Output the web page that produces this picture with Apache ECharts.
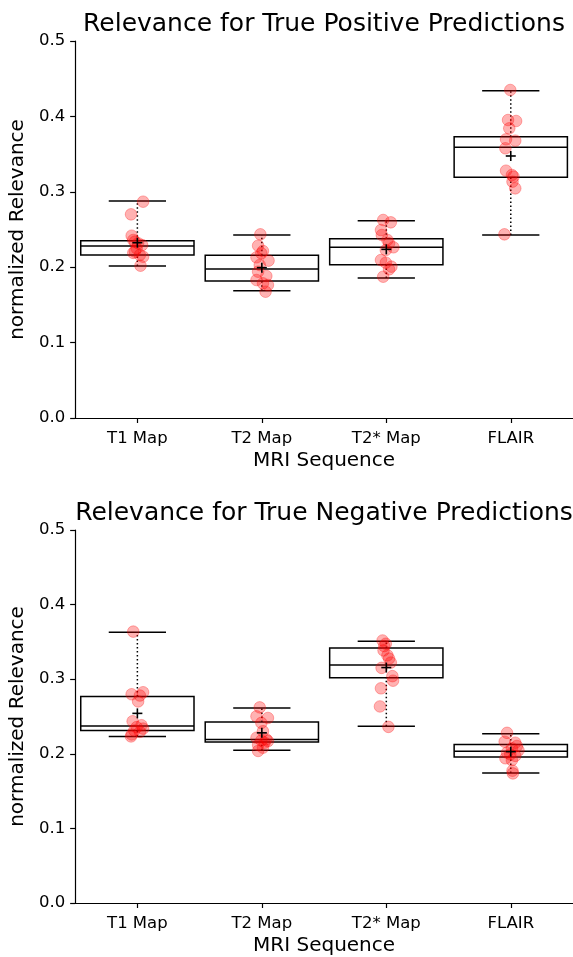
<!DOCTYPE html>
<html>
<head>
<meta charset="utf-8">
<script src="https://cdn.jsdelivr.net/npm/echarts@6/dist/echarts.min.js"></script>
<style>
html,body{margin:0;padding:0;background:#fff;}
#c{width:573px;height:957px;}
</style>
</head>
<body>
<div id="c"></div>
<script>
const categories = ['T1 Map', 'T2 Map', 'T2* Map', 'FLAIR'];
const yTicks = [0, 0.1, 0.2, 0.3, 0.4, 0.5];
const titles = ['Relevance for True Positive Predictions', 'Relevance for True Negative Predictions'];

// True Positive box statistics
const tpWhiskLow  = [0.2016, 0.1689, 0.1857, 0.2427];
const tpQ1        = [0.2162, 0.1817, 0.2034, 0.3192];
const tpMedian    = [0.2281, 0.1976, 0.2263, 0.3590];
const tpQ3        = [0.2351, 0.2157, 0.2378, 0.3731];
const tpWhiskHigh = [0.2878, 0.2427, 0.2617, 0.4341];
const tpMean      = [0.2325, 0.1994, 0.2237, 0.3475];

// True Negative box statistics
const tnWhiskLow  = [0.2233, 0.2047, 0.2369, 0.1741];
const tnQ1        = [0.2312, 0.2157, 0.3019, 0.1958];
const tnMedian    = [0.2374, 0.2193, 0.3191, 0.2034];
const tnQ3        = [0.2767, 0.2427, 0.3417, 0.2126];
const tnWhiskHigh = [0.3630, 0.2613, 0.3510, 0.2268];
const tnMean      = [0.2542, 0.2281, 0.3156, 0.2029];

// Individual samples (True Positive)
const tpPoints = [
  [0.2869,0.2701,0.2418,0.2361,0.2339,0.2317,0.2294,0.2250,0.2206,0.2190,0.2162,0.2139,0.2020],
  [0.2436,0.2285,0.2215,0.2184,0.2131,0.2087,0.2029,0.1940,0.1883,0.1830,0.1786,0.1764,0.1675],
  [0.2626,0.2595,0.2493,0.2427,0.2361,0.2317,0.2264,0.2228,0.2095,0.2060,0.2007,0.1972,0.1874],
  [0.4350,0.3952,0.3939,0.3842,0.3696,0.3678,0.3577,0.3280,0.3223,0.3201,0.3134,0.3046,0.2436]
];
const tpJitter = [
  [0.046,-0.051,-0.046,-0.033,-0.020,0.006,0.038,-0.006,-0.020,-0.033,0.020,0.046,0.025],
  [-0.012,-0.030,0.009,-0.004,-0.043,0.054,-0.017,-0.030,0.036,-0.043,0.009,0.049,0.030],
  [-0.025,0.036,-0.043,-0.036,0.009,0.022,0.057,-0.004,-0.043,-0.004,0.041,0.022,-0.025],
  [-0.004,-0.022,0.043,-0.012,-0.038,0.036,-0.043,-0.038,0.009,0.022,0.014,0.036,-0.051]
];

// Individual samples (True Negative)
const tnPoints = [
  [0.3638,0.2825,0.2798,0.2781,0.2702,0.2436,0.2383,0.2357,0.2338,0.2312,0.2294,0.2259,0.2233],
  [0.2622,0.2502,0.2480,0.2414,0.2303,0.2215,0.2193,0.2179,0.2170,0.2149,0.2118,0.2082,0.2038],
  [0.3519,0.3475,0.3444,0.3386,0.3320,0.3276,0.3223,0.3152,0.3041,0.2980,0.2878,0.2635,0.2361],
  [0.2281,0.2162,0.2149,0.2105,0.2073,0.2047,0.2016,0.1993,0.1972,0.1940,0.1914,0.1773,0.1737]
];
const tnJitter = [
  [-0.033,0.046,-0.046,0.020,0.006,-0.038,0.033,-0.006,0.046,-0.025,0.020,-0.046,-0.051],
  [-0.017,-0.043,0.049,-0.004,0.009,-0.043,0.036,-0.004,0.049,0.022,-0.030,0.009,-0.030],
  [-0.030,-0.004,-0.017,-0.022,0.009,0.022,0.036,-0.038,0.049,0.054,-0.043,-0.051,0.017],
  [-0.030,-0.049,0.036,0.049,0.009,0.062,-0.030,-0.004,0.036,-0.043,0.009,0.014,0.017]
];

const FONT = 'DejaVu Sans';
const chart = echarts.init(document.getElementById('c'), null, {renderer: 'canvas'});

function boxData(lo, q1, med, q3, hi) {
  return categories.map((c, i) => [i, lo[i], q1[i], med[i], q3[i], hi[i]]);
}
function pointData(pts, jit) {
  const out = [];
  pts.forEach((arr, i) => arr.forEach((v, k) => out.push([i, v, jit[i][k]])));
  return out;
}
function meanData(m) { return categories.map((c, i) => [i, m[i]]); }

function renderBox(params, api) {
  const idx = api.value(0);
  const bw = api.size([1, 0])[0];
  const pLo = api.coord([idx, api.value(1)]);
  const pQ1 = api.coord([idx, api.value(2)]);
  const pMed = api.coord([idx, api.value(3)]);
  const pQ3 = api.coord([idx, api.value(4)]);
  const pHi = api.coord([idx, api.value(5)]);
  const cx = pMed[0];
  const hb = bw * 0.455;
  const hc = bw * 0.23;
  const solid = {stroke: '#000', lineWidth: 1.5, fill: null};
  const dotted = {stroke: '#000', lineWidth: 1.5, lineDash: [1.5, 2.5], fill: null};
  return {
    type: 'group',
    children: [
      {type: 'line', shape: {x1: cx, y1: pQ3[1], x2: cx, y2: pHi[1]}, style: dotted},
      {type: 'line', shape: {x1: cx, y1: pLo[1], x2: cx, y2: pQ1[1]}, style: dotted},
      {type: 'line', shape: {x1: cx - hc, y1: pHi[1], x2: cx + hc, y2: pHi[1]}, style: solid},
      {type: 'line', shape: {x1: cx - hc, y1: pLo[1], x2: cx + hc, y2: pLo[1]}, style: solid},
      {type: 'rect', shape: {x: cx - hb, y: pQ3[1], width: 2 * hb, height: pQ1[1] - pQ3[1]}, style: solid},
      {type: 'line', shape: {x1: cx - hb, y1: pMed[1], x2: cx + hb, y2: pMed[1]}, style: solid}
    ]
  };
}
function renderPoint(params, api) {
  const idx = api.value(0);
  const bw = api.size([1, 0])[0];
  const p = api.coord([idx, api.value(1)]);
  return {
    type: 'circle',
    shape: {cx: p[0] + api.value(2) * bw, cy: p[1], r: 5.8},
    style: {fill: 'rgba(255,0,0,0.3)', stroke: 'rgba(255,0,0,0.3)', lineWidth: 1}
  };
}
function renderMean(params, api) {
  const p = api.coord([api.value(0), api.value(1)]);
  const s = 5;
  return {
    type: 'group',
    children: [
      {type: 'line', shape: {x1: p[0] - s, y1: p[1], x2: p[0] + s, y2: p[1]}, style: {stroke: '#000', lineWidth: 1.6}},
      {type: 'line', shape: {x1: p[0], y1: p[1] - s, x2: p[0], y2: p[1] + s}, style: {stroke: '#000', lineWidth: 1.6}}
    ]
  };
}

function xAxis(gi) {
  return {
    type: 'category', gridIndex: gi, data: categories, boundaryGap: true,
    name: 'MRI Sequence', nameLocation: 'middle', nameGap: 33,
    nameTextStyle: {fontFamily: FONT, fontSize: 20, color: '#000'},
    axisLine: {show: true, lineStyle: {color: '#000', width: 1.2}},
    axisTick: {show: true, alignWithLabel: true, length: 5, lineStyle: {color: '#000', width: 1.2}},
    axisLabel: {fontFamily: FONT, fontSize: 16.5, color: '#000', margin: 12},
    splitLine: {show: false}
  };
}
function yAxis(gi) {
  return {
    type: 'value', gridIndex: gi, min: 0, max: 0.5, interval: 0.1,
    name: 'normalized Relevance', nameLocation: 'middle', nameGap: 44, nameRotate: 90,
    nameTextStyle: {fontFamily: FONT, fontSize: 20, color: '#000'},
    axisLine: {show: true, lineStyle: {color: '#000', width: 1.2}},
    axisTick: {show: true, length: 5, lineStyle: {color: '#000', width: 1.2}},
    axisLabel: {fontFamily: FONT, fontSize: 16.5, color: '#000', margin: 10,
      formatter: v => { const t = yTicks.find(x => Math.abs(x - v) < 1e-9); return (t !== undefined ? t : v).toFixed(1); }},
    splitLine: {show: false}
  };
}

const option = {
  animation: false,
  backgroundColor: '#fff',
  graphic: [
    {type: 'text', x: 324, y: 24, style: {text: titles[0], font: '25px "DejaVu Sans"', fill: '#000', textAlign: 'center', textVerticalAlign: 'middle'}},
    {type: 'text', x: 324, y: 513, style: {text: titles[1], font: '25px "DejaVu Sans"', fill: '#000', textAlign: 'center', textVerticalAlign: 'middle'}}
  ],
  grid: [
    {left: 73, top: 41, width: 505, height: 377},
    {left: 73, top: 530, width: 505, height: 377}
  ],
  xAxis: [xAxis(0), xAxis(1)],
  yAxis: [yAxis(0), yAxis(1)],
  series: [
    {type: 'custom', xAxisIndex: 0, yAxisIndex: 0, z: 2, renderItem: renderBox,
     encode: {x: 0, y: [1, 2, 3, 4, 5]}, data: boxData(tpWhiskLow, tpQ1, tpMedian, tpQ3, tpWhiskHigh)},
    {type: 'custom', xAxisIndex: 0, yAxisIndex: 0, z: 3, renderItem: renderPoint,
     encode: {x: 0, y: 1}, data: pointData(tpPoints, tpJitter)},
    {type: 'custom', xAxisIndex: 0, yAxisIndex: 0, z: 4, renderItem: renderMean,
     encode: {x: 0, y: 1}, data: meanData(tpMean)},
    {type: 'custom', xAxisIndex: 1, yAxisIndex: 1, z: 2, renderItem: renderBox,
     encode: {x: 0, y: [1, 2, 3, 4, 5]}, data: boxData(tnWhiskLow, tnQ1, tnMedian, tnQ3, tnWhiskHigh)},
    {type: 'custom', xAxisIndex: 1, yAxisIndex: 1, z: 3, renderItem: renderPoint,
     encode: {x: 0, y: 1}, data: pointData(tnPoints, tnJitter)},
    {type: 'custom', xAxisIndex: 1, yAxisIndex: 1, z: 4, renderItem: renderMean,
     encode: {x: 0, y: 1}, data: meanData(tnMean)}
  ]
};
chart.setOption(option);
</script>
</body>
</html>
